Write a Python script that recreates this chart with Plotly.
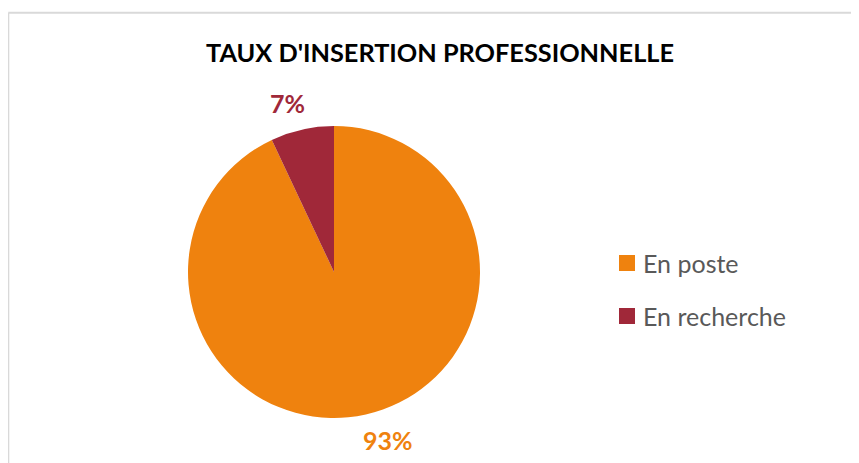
import plotly.graph_objects as go

categories = ["En poste", "En recherche"]
values = [93, 7]
colors = ["#EF820E", "#A02839"]
title_text = "TAUX D'INSERTION PROFESSIONNELLE"

OFF = 8  # page body margin offset
W, H = 859 - OFF, 463 - OFF

def px(x):
    return (x - OFF) / W

def py(y):
    return 1 - (y - OFF) / H

fig = go.Figure()
fig.add_trace(go.Pie(
    labels=categories,
    values=values,
    marker=dict(colors=colors, line=dict(color="white", width=0)),
    sort=False,
    direction="clockwise",
    rotation=0,
    textinfo="none",
    hoverinfo="label+percent",
    showlegend=False,
    domain=dict(x=[px(188), px(480)], y=[py(418), py(126)]),
))

total = sum(values)
pct = [f"{round(v / total * 100)}%" for v in values]
label_pos = [(388, 440), (287, 103)]
annotations = []
for t, c, (lx, ly) in zip(pct, colors, label_pos):
    annotations.append(dict(x=px(lx), y=py(ly), xref="paper", yref="paper",
                            text=f"<b>{t}</b>", showarrow=False,
                            font=dict(family="Lato", size=25, color=c),
                            xanchor="center", yanchor="middle"))

annotations.append(dict(x=px(440), y=py(52), xref="paper", yref="paper",
                        text=f"<b>{title_text}</b>", showarrow=False,
                        font=dict(family="Lato", size=25.3, color="#000000"),
                        xanchor="center", yanchor="middle"))

shapes = []
leg_y = [263, 316]
for cat, c, ly in zip(categories, colors, leg_y):
    shapes.append(dict(type="rect", xref="paper", yref="paper",
                       x0=px(619), x1=px(635), y0=py(ly + 8), y1=py(ly - 8),
                       fillcolor=c, line=dict(width=0)))
    annotations.append(dict(x=px(641), y=py(ly), xref="paper", yref="paper",
                            text=cat, showarrow=False,
                            font=dict(family="Lato", size=25, color="#595959"),
                            xanchor="left", yanchor="middle"))

shapes.append(dict(type="line", xref="paper", yref="paper",
                   x0=px(8.3), x1=px(8.3), y0=-0.1, y1=py(12.8),
                   line=dict(color="#D9D9D9", width=2)))
shapes.append(dict(type="line", xref="paper", yref="paper",
                   x0=px(8.3), x1=1.1, y0=py(12.8), y1=py(12.8),
                   line=dict(color="#D9D9D9", width=2)))

fig.update_layout(
    width=W, height=H,
    margin=dict(l=0, r=0, t=0, b=0),
    paper_bgcolor="white",
    plot_bgcolor="white",
    annotations=annotations,
    shapes=shapes,
    showlegend=False,
)

fig.write_html("out.html")
